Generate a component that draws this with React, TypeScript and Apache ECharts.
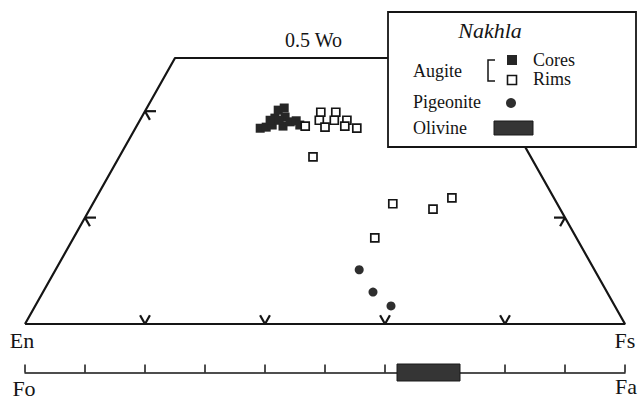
import React, { useEffect, useRef } from "react";
import * as echarts from "echarts";

// Pyroxene compositions (mol%): Wo and Fs
const coreWo = [36.8, 37.0, 37.4, 38.7, 40.2, 40.6, 38.9, 37.2, 38.0, 38.2, 37.4, 38.3, 38.3];
const coreFs = [20.8, 21.7, 22.5, 22.3, 22.1, 22.9, 23.9, 24.4, 25.2, 26.1, 27.1, 21.7, 23.2];
const rimWo = [37.2, 39.8, 38.3, 37.0, 39.8, 38.3, 38.3, 37.2, 36.8, 31.4, 22.6, 21.6, 23.7, 16.2];
const rimFs = [28.1, 29.4, 29.9, 31.5, 31.9, 32.4, 34.5, 34.7, 36.9, 32.3, 50.0, 57.2, 59.3, 50.2];
const pigWo = [10.2, 6.0, 3.4];
const pigFs = [50.6, 55.0, 59.3];
// Olivine Fa range
const olivineFa = [62, 72.5];
// Tick marks
const baseTicks = [20, 40, 60, 80]; // along En–Fs (Fs %)
const sideTicks = [20, 40]; // Wo % along the side edges
const faTicks = 10; // Fo–Fa axis interval

const toXY = (wo: number, fs: number) => [fs + wo / 2, wo];

const FAMILY = "Liberation Serif";
const INK = "#151515";

const txt = (text: string, x: number, y: number, size: number, extra: any = {}) => ({
  type: "text",
  x,
  y,
  z: 101,
  style: {
    text,
    fontFamily: FAMILY,
    fontSize: size,
    fill: INK,
    verticalAlign: "middle",
    ...extra,
  },
});

export default function App() {
  const ref = useRef<HTMLDivElement>(null);
  useEffect(() => {
    if (!ref.current) return;
    const chart = echarts.init(ref.current, undefined, { renderer: "svg" });

    const cores = coreWo.map((w, i) => toXY(w, coreFs[i]));
    const rims = rimWo.map((w, i) => toXY(w, rimFs[i]));
    const pigs = pigWo.map((w, i) => toXY(w, pigFs[i]));
    const outline = [toXY(0, 0), toXY(50, 0), toXY(50, 50), toXY(0, 100), toXY(0, 0)];

    // tick data: [x, y, kind]  kind 0 = base, 1 = left edge, 2 = right edge
    const tickData: number[][] = [];
    baseTicks.forEach((fs) => tickData.push([...toXY(0, fs), 0]));
    sideTicks.forEach((wo) => tickData.push([...toXY(wo, 0), 1]));
    sideTicks.forEach((wo) => tickData.push([...toXY(wo, 100 - wo), 2]));

    const option: any = {
      animation: false,
      grid: [
        { left: 25, top: 58, width: 600, height: 266 },
        { left: 25, top: 364, width: 600, height: 17 },
      ],
      xAxis: [
        { gridIndex: 0, type: "value", min: 0, max: 100, show: false },
        {
          gridIndex: 1,
          type: "value",
          min: 0,
          max: 100,
          interval: faTicks,
          axisLine: { show: true, onZero: true, lineStyle: { color: INK, width: 1.5 } },
          axisTick: { show: true, inside: true, length: 8, lineStyle: { color: INK, width: 1.5 } },
          axisLabel: { show: false },
          splitLine: { show: false },
        },
      ],
      yAxis: [
        { gridIndex: 0, type: "value", min: 0, max: 50, show: false },
        { gridIndex: 1, type: "value", min: -1, max: 1, show: false },
      ],
      series: [
        {
          type: "line",
          xAxisIndex: 0,
          yAxisIndex: 0,
          data: outline,
          symbol: "none",
          lineStyle: { color: INK, width: 2.2 },
          z: 1,
        },
        {
          type: "custom",
          xAxisIndex: 0,
          yAxisIndex: 0,
          data: tickData,
          z: 1,
          renderItem: (params: any, api: any) => {
            const p = api.coord([api.value(0), api.value(1)]);
            const a = api.coord([0, 0]);
            const b = api.coord([25, 50]);
            const dx = b[0] - a[0];
            const dy = b[1] - a[1];
            const len = Math.hypot(dx, dy);
            const ux = dx / len;
            const uy = dy / len;
            const kind = api.value(2);
            const L = 10;
            let arms: number[][];
            if (kind === 0) {
              arms = [
                [ux * L, uy * L],
                [-ux * L, uy * L],
              ];
            } else if (kind === 1) {
              arms = [
                [11, 0],
                [ux * L, -uy * L],
              ];
            } else {
              arms = [
                [-11, 0],
                [-ux * L, -uy * L],
              ];
            }
            return {
              type: "group",
              children: arms.map((v) => ({
                type: "line",
                shape: { x1: p[0], y1: p[1], x2: p[0] + v[0], y2: p[1] + v[1] },
                style: { stroke: INK, lineWidth: 2.2 },
              })),
            };
          },
        },
        {
          type: "scatter",
          xAxisIndex: 0,
          yAxisIndex: 0,
          data: cores,
          symbol: "rect",
          symbolSize: 9,
          itemStyle: { color: "#262626", opacity: 1 },
          z: 3,
        },
        {
          type: "scatter",
          xAxisIndex: 0,
          yAxisIndex: 0,
          data: rims,
          symbol: "rect",
          symbolSize: 8,
          itemStyle: { color: "#ffffff", borderColor: INK, borderWidth: 1.7, opacity: 1 },
          z: 4,
        },
        {
          type: "scatter",
          xAxisIndex: 0,
          yAxisIndex: 0,
          data: pigs,
          symbol: "circle",
          symbolSize: 9,
          itemStyle: { color: "#2e2e2e", opacity: 1 },
          z: 4,
        },
        {
          type: "custom",
          xAxisIndex: 1,
          yAxisIndex: 1,
          data: [olivineFa],
          z: 5,
          renderItem: (params: any, api: any) => {
            const p0 = api.coord([api.value(0), 1]);
            const p1 = api.coord([api.value(1), -1]);
            return {
              type: "rect",
              shape: { x: p0[0], y: p0[1], width: p1[0] - p0[0], height: p1[1] - p0[1] },
              style: { fill: "#353535", stroke: "#1a1a1a", lineWidth: 1 },
            };
          },
        },
      ],
      graphic: [
        txt("0.5 Wo", 285, 40, 20),
        txt("En", 22, 340, 22, { align: "center" }),
        txt("Fs", 625, 340, 22, { align: "center" }),
        txt("Fo", 24, 388, 22, { align: "center" }),
        txt("Fa", 626, 386, 22, { align: "center" }),
        {
          type: "group",
          z: 100,
          children: [
            { type: "rect", z: 100, shape: { x: 388, y: 12, width: 248, height: 135 }, style: { fill: "#ffffff", stroke: INK, lineWidth: 1.8 } },
            txt("Nakhla", 490, 30, 22, { align: "center", fontStyle: "italic" }),
            txt("Augite", 413, 71, 18),
            { type: "polyline", z: 101, shape: { points: [[495, 60], [488, 60], [488, 81], [495, 81]] }, style: { stroke: INK, lineWidth: 1.5, fill: null } },
            { type: "rect", z: 101, shape: { x: 507, y: 55, width: 10, height: 10 }, style: { fill: "#262626" } },
            { type: "rect", z: 101, shape: { x: 507.5, y: 75.5, width: 9, height: 9 }, style: { fill: "#ffffff", stroke: INK, lineWidth: 1.6 } },
            txt("Cores", 533, 60, 18),
            txt("Rims", 533, 79, 18),
            txt("Pigeonite", 413, 102, 18),
            { type: "circle", z: 101, shape: { cx: 511, cy: 103, r: 5 }, style: { fill: "#2e2e2e" } },
            txt("Olivine", 413, 128, 18),
            { type: "rect", z: 101, shape: { x: 494, y: 121, width: 39, height: 14 }, style: { fill: "#353535", stroke: "#1a1a1a", lineWidth: 1 } },
          ],
        },
      ],
    };
    chart.setOption(option);
    return () => chart.dispose();
  }, []);
  return (
    <div
      ref={ref}
      style={{ position: "absolute", left: 0, top: 0, width: 639, height: 399, background: "#ffffff" }}
    />
  );
}
